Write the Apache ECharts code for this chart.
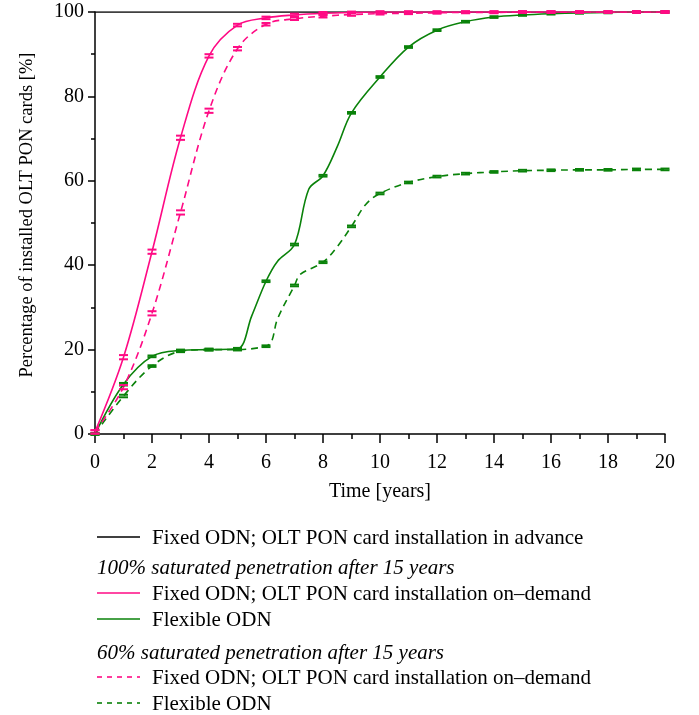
<!DOCTYPE html>
<html>
<head>
<meta charset="utf-8">
<script src="https://cdn.jsdelivr.net/npm/echarts@6/dist/echarts.min.js"></script>
<style>
    html, body {margin: 0; padding: 0; background: #fff;}
    #main {width: 699px; height: 715px;}
</style>
</head>
<body>
<div id="main"></div>
<script>
// data
var years = [0, 1, 2, 3, 4, 5, 6, 7, 8, 9, 10, 11, 12, 13, 14, 15, 16, 17, 18, 19, 20];
var advance = [[0, 100], [20, 100]];
// 100% saturated penetration
var fixed100 = [0.5, 18.2, 43.2, 70.2, 89.6, 96.9, 98.6, 99.3, 99.7, 99.9, 100, 100, 100, 100, 100, 100, 100, 100, 100, 100, 100];
var fixed100Err = [0.4, 0.5, 0.5, 0.5, 0.4, 0.3, 0.3, 0.3, 0.3, 0.2, 0.2, 0.2, 0.2, 0.2, 0.2, 0.2, 0.2, 0.2, 0.2, 0.2, 0.2];
var flex100 = [0, 11.8, 18.4, 19.8, 20, 20.2, 36.2, 44.9, 61.2, 76.1, 84.6, 91.7, 95.7, 97.7, 98.8, 99.3, 99.6, 99.8, 99.9, 100, 100];
var flex100Extra = [[5.5, 28.0], [6.4, 40.9], [7.5, 58.0], [8.5, 68.1]];
var flex100Err = [0.2, 0.3, 0.2, 0.2, 0.2, 0.2, 0.2, 0.2, 0.2, 0.2, 0.2, 0.2, 0.2, 0.2, 0.2, 0.2, 0.2, 0.2, 0.2, 0.2, 0.2];
// 60% saturated penetration
var fixed60 = [0.5, 11.1, 28.6, 52.5, 76.6, 91.3, 97.1, 98.4, 99.0, 99.4, 99.6, 99.7, 99.8, 99.9, 99.9, 100, 100, 100, 100, 100, 100];
var fixed60Err = [0.4, 0.5, 0.5, 0.5, 0.5, 0.4, 0.3, 0.3, 0.3, 0.3, 0.2, 0.2, 0.2, 0.2, 0.2, 0.2, 0.2, 0.2, 0.2, 0.2, 0.2];
var flex60 = [0, 9.0, 16.1, 19.6, 20, 20, 20.8, 35.2, 40.7, 49.2, 57.0, 59.6, 61.0, 61.7, 62.1, 62.4, 62.5, 62.6, 62.6, 62.7, 62.7];
var flex60Extra = [[6.2, 22.0], [6.4, 27.2], [7.2, 37.8], [8.5, 44.4], [9.5, 54.4]];
var flex60Err = [0.2, 0.3, 0.2, 0.2, 0.2, 0.2, 0.2, 0.2, 0.2, 0.2, 0.2, 0.2, 0.2, 0.2, 0.2, 0.2, 0.2, 0.2, 0.2, 0.2, 0.2];
var xTicks = [0, 2, 4, 6, 8, 10, 12, 14, 16, 18, 20];
var yTicks = [0, 20, 40, 60, 80, 100];

var PINK = '#ff0a84';
var GREEN = '#0a820a';
var FONT = 'Liberation Serif';

function pairs(vals, extra) {
    var out = [];
    for (var i = 0; i < years.length; i++) {
        out.push([years[i], vals[i]]);
    }
    if (extra) {
        out = out.concat(extra);
        out.sort(function (a, b) { return a[0] - b[0]; });
    }
    return out;
}

function errData(vals, errs) {
    var out = [];
    for (var i = 0; i < years.length; i++) {
        out.push([years[i], vals[i], errs[i]]);
    }
    return out;
}

// small horizontal bars at value +/- error
function errSeries(vals, errs, color) {
    return {
        type: 'custom',
        z: 5,
        silent: true,
        data: errData(vals, errs),
        renderItem: function (params, api) {
            var x = api.value(0), y = api.value(1), e = api.value(2);
            var hi = api.coord([x, y + e]);
            var lo = api.coord([x, y - e]);
            var w = 4.5;
            var st = {stroke: color, lineWidth: 2};
            return {
                type: 'group',
                children: [
                    {type: 'line', shape: {x1: hi[0] - w, y1: hi[1], x2: hi[0] + w, y2: hi[1]}, style: st},
                    {type: 'line', shape: {x1: lo[0] - w, y1: lo[1], x2: lo[0] + w, y2: lo[1]}, style: st}
                ]
            };
        }
    };
}

function lineSeries(data, color, dashed) {
    return {
        type: 'line',
        data: data,
        smooth: 0.35,
        symbol: 'none',
        lineStyle: {color: color, width: 1.6, type: dashed ? [7, 5] : 'solid'},
        silent: true
    };
}

var chart = echarts.init(document.getElementById('main'), null, {renderer: 'canvas'});

var legendRows = [
    {y: 538, text: 'Fixed ODN; OLT PON card installation in advance', color: '#000', dashed: false},
    {y: 568, header: '100% saturated penetration after 15 years'},
    {y: 594, text: 'Fixed ODN; OLT PON card installation on\u2013demand', color: PINK, dashed: false},
    {y: 620, text: 'Flexible ODN', color: GREEN, dashed: false},
    {y: 653, header: '60% saturated penetration after 15 years'},
    {y: 678, text: 'Fixed ODN; OLT PON card installation on\u2013demand', color: PINK, dashed: true},
    {y: 704, text: 'Flexible ODN', color: GREEN, dashed: true}
];
var graphics = [];
legendRows.forEach(function (r) {
    if (r.header) {
        graphics.push({
            type: 'text', x: 97, y: r.y,
            style: {text: r.header, font: 'italic 21px "' + FONT + '"', fill: '#000', verticalAlign: 'middle'}
        });
    } else {
        graphics.push({
            type: 'line', shape: {x1: 97, y1: r.y - 1, x2: 140, y2: r.y - 1},
            style: {stroke: r.color, lineWidth: 1.6, lineDash: r.dashed ? [5, 5] : null}
        });
        graphics.push({
            type: 'text', x: 152, y: r.y,
            style: {text: r.text, font: '21px "' + FONT + '"', fill: '#000', verticalAlign: 'middle'}
        });
    }
});

chart.setOption({
    animation: false,
    backgroundColor: '#fff',
    grid: {left: 95, right: 34, top: 12, bottom: 281},
    xAxis: {
        type: 'value',
        min: 0, max: 20, interval: 2,
        name: 'Time [years]',
        nameLocation: 'middle',
        nameGap: 48,
        nameTextStyle: {fontFamily: FONT, fontSize: 20, color: '#000'},
        axisLine: {lineStyle: {color: '#000', width: 1.5}},
        axisTick: {inside: false, length: 9, lineStyle: {color: '#000', width: 1.5}},
        minorTick: {show: true, splitNumber: 2, length: 5, lineStyle: {color: '#000', width: 1.5}},
        splitLine: {show: false},
        axisLabel: {
            margin: 19, fontFamily: FONT, fontSize: 20, color: '#000',
            customValues: xTicks
        }
    },
    yAxis: {
        type: 'value',
        min: 0, max: 100, interval: 20,
        name: 'Percentage of installed OLT PON cards [%]',
        nameLocation: 'middle',
        nameGap: 58,
        nameTextStyle: {fontFamily: FONT, fontSize: 18.5, color: '#000', padding: [0, 0, 0, 16]},
        axisLine: {show: true, lineStyle: {color: '#000', width: 1.5}},
        axisTick: {show: true, inside: false, length: 7, lineStyle: {color: '#000', width: 1.5}},
        minorTick: {show: true, splitNumber: 2, length: 4, lineStyle: {color: '#000', width: 1.5}},
        splitLine: {show: false},
        axisLabel: {margin: 11, fontFamily: FONT, fontSize: 20, color: '#000', customValues: yTicks}
    },
    graphic: graphics,
    series: [
        {
            type: 'line', data: advance, symbol: 'none', silent: true, z: 1,
            lineStyle: {color: '#000', width: 1.6}
        },
        lineSeries(pairs(flex60, flex60Extra), GREEN, true),
        lineSeries(pairs(flex100, flex100Extra), GREEN, false),
        lineSeries(pairs(fixed60), PINK, true),
        lineSeries(pairs(fixed100), PINK, false),
        errSeries(flex60, flex60Err, GREEN),
        errSeries(flex100, flex100Err, GREEN),
        errSeries(fixed60, fixed60Err, PINK),
        errSeries(fixed100, fixed100Err, PINK)
    ]
});
</script>
</body>
</html>
